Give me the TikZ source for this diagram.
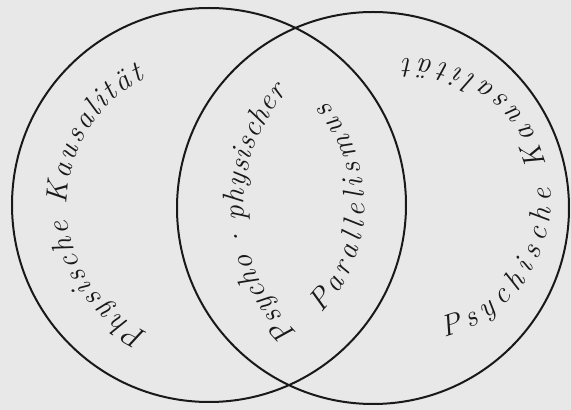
\documentclass[tikz,border=0pt]{standalone}
\usepackage{fontspec}
\usepackage{tikz}
\usetikzlibrary{decorations.text}

\begin{document}
\begin{tikzpicture}[
  x=1pt, y=1pt,
  ring/.style={draw=black!90, line width=2pt},
  curved/.style={decorate, decoration={text along path, text align=fit to path,
    text={|\fontsize{30}{34}\selectfont\itshape\color{black!90}|#1}}}
]
\useasboundingbox (0,0) rectangle (571,410);
\fill[black!9] (0,0) rectangle (571,410);

% the two circles
\coordinate (physis) at (209,205);
\coordinate (psyche) at (373,202);
\draw[ring] (physis) circle[radius=197];
\draw[ring] (psyche) circle[radius=196];

% centres of the written arcs
\coordinate (rightarc) at (410,210);
\coordinate (lensarc) at (419,203);

% texts along the circles
\path[shift={(physis)}, curved={Physische Kausalität}]
  (245:142) arc[start angle=245, end angle=117, radius=142];
\path[shift={(rightarc)}, curved={Psychische Kausalität}]
  (-76:141) arc[start angle=-76, end angle=93, radius=141];
\path[shift={(lensarc)}, curved={Psycho{\,·\,}physischer}]
  (226:175) arc[start angle=226, end angle=139, radius=175];
\path[shift={(physis)}, curved={Parallelismus}]
  (-44:156) arc[start angle=-44, end angle=41, radius=156];
\end{tikzpicture}
\end{document}
